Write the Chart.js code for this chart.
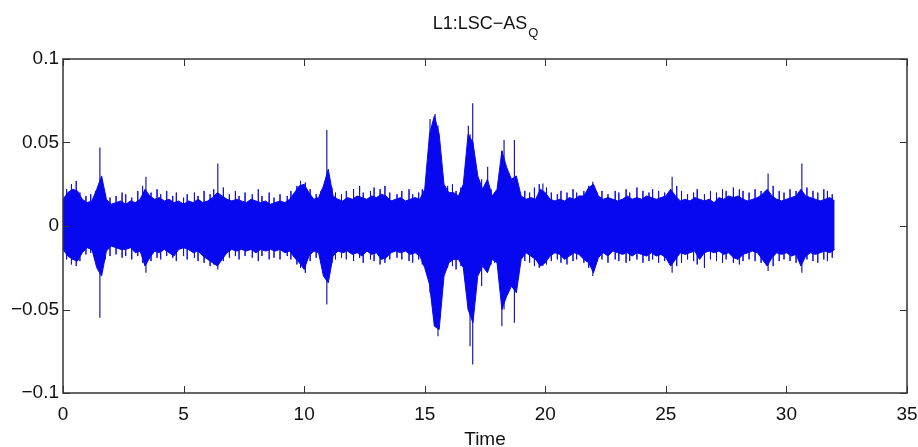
<!DOCTYPE html>
<html>
<head>
<meta charset="utf-8">
<script src="https://cdn.jsdelivr.net/npm/chart.js@4/dist/chart.umd.min.js"></script>
<style>
  html, body { margin: 0; padding: 0; background: #ffffff; }
  #wrap { width: 918px; height: 447px; position: relative; }
</style>
</head>
<body>
<div id="wrap"><canvas id="c" width="918" height="447"></canvas></div>
<script>
// ---- data ----
const titleMain = 'L1:LSC\u2212AS';
const titleSub = 'Q';
const xAxisTitle = 'Time';
const xTickValues = [0, 5, 10, 15, 20, 25, 30, 35];
const yTickValues = [-0.1, -0.05, 0, 0.05, 0.1];

// envelope sampled every 0.2 s from t = 0 to t = 32
const sampleStart = 0;
const sampleStep = 0.2;
const upperEnv = [
  0.016, 0.020, 0.022, 0.021, 0.016, 0.014, 0.015, 0.022, 0.030, 0.016,
  0.013, 0.014, 0.015, 0.013, 0.015, 0.014, 0.016, 0.022, 0.018, 0.016,
  0.017, 0.015, 0.016, 0.014, 0.015, 0.013, 0.015, 0.014, 0.016, 0.014,
  0.015, 0.017, 0.020, 0.018, 0.016, 0.015, 0.016, 0.015, 0.014, 0.016,
  0.015, 0.014, 0.015, 0.013, 0.014, 0.015, 0.014, 0.016, 0.020, 0.024,
  0.025, 0.020, 0.016, 0.017, 0.024, 0.034, 0.018, 0.016, 0.015, 0.017,
  0.016, 0.018, 0.017, 0.016, 0.018, 0.017, 0.019, 0.018, 0.015, 0.016,
  0.017, 0.015, 0.016, 0.017, 0.016, 0.022, 0.055, 0.066, 0.055, 0.025,
  0.020, 0.020, 0.018, 0.025, 0.055, 0.050, 0.030, 0.022, 0.028, 0.018,
  0.022, 0.045, 0.035, 0.028, 0.030, 0.018, 0.016, 0.017, 0.016, 0.022,
  0.020, 0.016, 0.015, 0.016, 0.015, 0.017, 0.016, 0.018, 0.018, 0.023,
  0.025, 0.018, 0.016, 0.017, 0.016, 0.015, 0.016, 0.018, 0.016, 0.017,
  0.016, 0.018, 0.017, 0.016, 0.017, 0.018, 0.022, 0.018, 0.015, 0.016,
  0.015, 0.017, 0.016, 0.015, 0.016, 0.014, 0.017, 0.016, 0.018, 0.017,
  0.018, 0.016, 0.015, 0.016, 0.017, 0.019, 0.022, 0.018, 0.016, 0.015,
  0.016, 0.017, 0.018, 0.022, 0.018, 0.017, 0.016, 0.015, 0.016, 0.017,
  0.015
];
const lowerEnv = [
  -0.014, -0.018, -0.020, -0.021, -0.016, -0.013, -0.014, -0.025, -0.030, -0.015,
  -0.012, -0.013, -0.014, -0.014, -0.013, -0.016, -0.015, -0.024, -0.019, -0.015,
  -0.016, -0.014, -0.016, -0.018, -0.014, -0.013, -0.014, -0.016, -0.015, -0.018,
  -0.020, -0.022, -0.024, -0.020, -0.016, -0.014, -0.015, -0.014, -0.015, -0.014,
  -0.016, -0.014, -0.015, -0.014, -0.015, -0.014, -0.016, -0.015, -0.019, -0.022,
  -0.026, -0.018, -0.015, -0.016, -0.030, -0.034, -0.018, -0.015, -0.016, -0.015,
  -0.017, -0.016, -0.018, -0.015, -0.017, -0.016, -0.020, -0.019, -0.016, -0.015,
  -0.016, -0.015, -0.017, -0.016, -0.018, -0.025, -0.035, -0.060, -0.062, -0.030,
  -0.022, -0.020, -0.020, -0.025, -0.050, -0.058, -0.030, -0.024, -0.028, -0.020,
  -0.022, -0.050, -0.042, -0.036, -0.040, -0.020, -0.016, -0.018, -0.020, -0.024,
  -0.022, -0.018, -0.016, -0.017, -0.020, -0.018, -0.016, -0.017, -0.020, -0.022,
  -0.028, -0.019, -0.016, -0.018, -0.015, -0.016, -0.017, -0.016, -0.018, -0.016,
  -0.017, -0.018, -0.016, -0.018, -0.017, -0.019, -0.024, -0.020, -0.016, -0.017,
  -0.016, -0.015, -0.020, -0.016, -0.015, -0.016, -0.015, -0.017, -0.016, -0.019,
  -0.020, -0.017, -0.016, -0.015, -0.016, -0.020, -0.024, -0.019, -0.016, -0.017,
  -0.016, -0.018, -0.017, -0.024, -0.018, -0.016, -0.017, -0.016, -0.015, -0.016,
  -0.014
];

// tall narrow peaks that stick out of the envelope
const spikeTimes = [1.53, 3.44, 6.42, 10.94, 15.22, 15.43, 15.55, 16.81, 16.88, 16.99, 17.36, 17.61, 18.2, 18.29, 18.72, 19.9, 21.97, 25.26, 29.24, 30.64];
const spikeHigh  = [0.047, 0.0295, 0.0375, 0.0575, 0.064, 0.067, 0.060, 0.060, 0.055, 0.0735, 0.028, 0.0355, 0.045, 0.0515, 0.0515, 0.0255, 0.0265, 0.0295, 0.0315, 0.0375];
const spikeLow   = [-0.055, -0.028, -0.026, -0.047, -0.040, -0.060, -0.066, -0.050, -0.072, -0.083, -0.036, -0.026, -0.060, -0.050, -0.058, -0.024, -0.030, -0.028, -0.027, -0.028];

// small needles along the noisy band edges
const needleTimes = [
  0.15, 0.35, 0.55, 0.7, 0.95, 1.15, 1.35, 1.75, 1.95, 2.2,
  2.45, 2.6, 2.85, 3.1, 3.3, 3.65, 3.9, 4.05, 4.3, 4.55,
  4.7, 5.0, 5.15, 5.45, 5.6, 5.85, 6.1, 6.25, 6.65, 6.9,
  7.15, 7.3, 7.55, 7.85, 8.1, 8.25, 8.55, 8.75, 9.0, 9.3,
  9.45, 9.7, 9.85, 10.05, 10.25, 10.5, 10.7, 11.15, 11.3, 11.55,
  11.75, 12.05, 12.3, 12.45, 12.75, 12.9, 13.15, 13.35, 13.55, 13.85,
  14.05, 14.35, 14.5, 14.75, 14.9, 15.95, 16.15, 16.3, 16.5, 17.75,
  17.9, 19.15, 19.35, 19.55, 19.75, 20.05, 20.25, 20.5, 20.65, 20.9,
  21.15, 21.3, 21.6, 21.8, 22.15, 22.35, 22.6, 22.9, 23.05, 23.35,
  23.5, 23.8, 24.05, 24.3, 24.45, 24.7, 24.95, 25.45, 25.65, 25.9,
  26.15, 26.3, 26.6, 26.85, 27.1, 27.35, 27.5, 27.8, 28.05, 28.2,
  28.45, 28.7, 28.95, 29.45, 29.7, 29.9, 30.15, 30.4, 30.85, 31.1,
  31.3, 31.55, 31.7, 31.9
];
const needleHigh = [
  0.022, 0.025, 0.027, 0.020, 0.018, 0.019, 0.021, 0.019, 0.017, 0.018,
  0.020, 0.019, 0.017, 0.021, 0.024, 0.020, 0.022, 0.019, 0.021, 0.018,
  0.020, 0.017, 0.019, 0.020, 0.018, 0.021, 0.019, 0.022, 0.023, 0.019,
  0.021, 0.018, 0.020, 0.019, 0.022, 0.018, 0.020, 0.017, 0.019, 0.018,
  0.021, 0.024, 0.027, 0.026, 0.022, 0.019, 0.021, 0.023, 0.020, 0.019,
  0.021, 0.022, 0.024, 0.020, 0.021, 0.023, 0.022, 0.024, 0.020, 0.019,
  0.021, 0.022, 0.019, 0.020, 0.022, 0.024, 0.025, 0.021, 0.023, 0.022,
  0.020, 0.021, 0.020, 0.023, 0.025, 0.023, 0.020, 0.019, 0.021, 0.020,
  0.022, 0.020, 0.021, 0.024, 0.020, 0.021, 0.019, 0.021, 0.020, 0.022,
  0.020, 0.023, 0.021, 0.020, 0.022, 0.021, 0.020, 0.024, 0.021, 0.019,
  0.020, 0.022, 0.019, 0.021, 0.020, 0.022, 0.021, 0.023, 0.022, 0.021,
  0.020, 0.022, 0.021, 0.024, 0.021, 0.020, 0.022, 0.021, 0.023, 0.021,
  0.020, 0.022, 0.021, 0.019
];
const needleLow = [
  -0.020, -0.023, -0.024, -0.021, -0.017, -0.016, -0.019, -0.020, -0.018, -0.017,
  -0.019, -0.018, -0.020, -0.018, -0.022, -0.021, -0.019, -0.020, -0.018, -0.019,
  -0.021, -0.018, -0.020, -0.019, -0.021, -0.022, -0.024, -0.023, -0.021, -0.019,
  -0.018, -0.020, -0.018, -0.019, -0.021, -0.018, -0.020, -0.019, -0.020, -0.018,
  -0.020, -0.023, -0.025, -0.028, -0.021, -0.019, -0.022, -0.022, -0.020, -0.019,
  -0.020, -0.021, -0.019, -0.022, -0.020, -0.021, -0.023, -0.022, -0.020, -0.019,
  -0.020, -0.021, -0.022, -0.020, -0.023, -0.025, -0.024, -0.026, -0.024, -0.023,
  -0.022, -0.021, -0.022, -0.024, -0.025, -0.023, -0.021, -0.020, -0.022, -0.023,
  -0.021, -0.020, -0.022, -0.025, -0.021, -0.020, -0.022, -0.020, -0.021, -0.022,
  -0.021, -0.020, -0.022, -0.021, -0.020, -0.022, -0.021, -0.024, -0.022, -0.020,
  -0.021, -0.023, -0.025, -0.020, -0.021, -0.022, -0.020, -0.022, -0.023, -0.021,
  -0.020, -0.021, -0.022, -0.024, -0.021, -0.020, -0.021, -0.022, -0.020, -0.021,
  -0.022, -0.020, -0.021, -0.019
];

// ---- build datasets from the arrays ----
const upperPts = upperEnv.map((v, i) => ({ x: +(sampleStart + i * sampleStep).toFixed(2), y: v }));
const lowerPts = lowerEnv.map((v, i) => ({ x: +(sampleStart + i * sampleStep).toFixed(2), y: v }));
function verticals(times, hi, lo) {
  const pts = [];
  times.forEach((t, i) => {
    pts.push({ x: t, y: hi[i] });
    pts.push({ x: t, y: lo[i] });
    pts.push({ x: t, y: null });
  });
  return pts;
}
const spikePts = verticals(spikeTimes, spikeHigh, spikeLow);
const needlePts = verticals(needleTimes, needleHigh, needleLow);

const FONT = "'Liberation Sans', Arial, Helvetica, sans-serif";
const BLUE = '#0808f0';

const fmt = v => {
  const r = Math.round(v * 100) / 100;
  return (r < 0 ? '\u2212' : '') + String(Math.abs(r));
};

const frame = {
  id: 'frame',
  afterDraw(chart) {
    const { ctx, chartArea: a, scales: { x, y } } = chart;
    ctx.save();
    ctx.strokeStyle = '#333';
    ctx.lineWidth = 1.5;
    ctx.strokeRect(a.left, a.top, a.right - a.left, a.bottom - a.top);
    ctx.lineWidth = 1;
    ctx.beginPath();
    const L = 7;
    xTickValues.forEach(v => {
      const p = Math.round(x.getPixelForValue(v)) + 0.5;
      ctx.moveTo(p, a.bottom); ctx.lineTo(p, a.bottom - L);
      ctx.moveTo(p, a.top); ctx.lineTo(p, a.top + L);
    });
    yTickValues.forEach(v => {
      const p = Math.round(y.getPixelForValue(v)) + 0.5;
      ctx.moveTo(a.left, p); ctx.lineTo(a.left + L, p);
      ctx.moveTo(a.right, p); ctx.lineTo(a.right - L, p);
    });
    ctx.stroke();
    // title with subscript
    ctx.fillStyle = '#111';
    ctx.textBaseline = 'alphabetic';
    ctx.font = '18px ' + FONT;
    const w1 = ctx.measureText(titleMain).width;
    ctx.font = '13px ' + FONT;
    const w2 = ctx.measureText(titleSub).width;
    const cx = (a.left + a.right) / 2;
    const x0 = cx - (w1 + w2) / 2;
    ctx.font = '18px ' + FONT;
    ctx.textAlign = 'left';
    ctx.fillText(titleMain, x0, 29);
    ctx.font = '13px ' + FONT;
    ctx.fillText(titleSub, x0 + w1 + 1, 37);
    ctx.restore();
  }
};

new Chart(document.getElementById('c'), {
  type: 'line',
  data: {
    datasets: [
      { data: upperPts, borderColor: BLUE, backgroundColor: BLUE, borderWidth: 1, pointRadius: 0, fill: '+1', tension: 0 },
      { data: lowerPts, borderColor: BLUE, backgroundColor: BLUE, borderWidth: 1, pointRadius: 0, fill: false, tension: 0 },
      { data: needlePts, borderColor: 'rgba(10,10,225,0.75)', borderWidth: 1, pointRadius: 0, fill: false, spanGaps: false, tension: 0 },
      { data: spikePts, borderColor: '#1c1cb0', borderWidth: 1.2, pointRadius: 0, fill: false, spanGaps: false, tension: 0 }
    ]
  },
  plugins: [frame],
  options: {
    responsive: false,
    animation: false,
    events: [],
    layout: { padding: { top: 59, right: 0, left: 0, bottom: 0 } },
    plugins: { legend: { display: false }, tooltip: { enabled: false }, title: { display: false } },
    scales: {
      x: {
        type: 'linear', min: 0, max: 35,
        afterBuildTicks: s => { s.ticks = xTickValues.map(v => ({ value: v })); },
        afterFit: s => { s.height = 54; s.paddingLeft = 0; s.paddingRight = 11; },
        grid: { display: false, drawTicks: false },
        border: { display: false },
        ticks: { color: '#111', font: { family: FONT, size: 19 }, padding: 10, maxRotation: 0, autoSkip: false, callback: v => fmt(v) },
        title: { display: true, text: xAxisTitle, color: '#111', font: { family: FONT, size: 19 }, padding: { top: 0, bottom: -4 } }
      },
      y: {
        type: 'linear', min: -0.1, max: 0.1,
        afterBuildTicks: s => { s.ticks = yTickValues.map(v => ({ value: v })); },
        afterFit: s => { s.width = 63; },
        grid: { display: false, drawTicks: false },
        border: { display: false },
        ticks: { color: '#111', font: { family: FONT, size: 19 }, padding: 4, autoSkip: false, callback: v => fmt(v) }
      }
    }
  }
});
</script>
</body>
</html>
